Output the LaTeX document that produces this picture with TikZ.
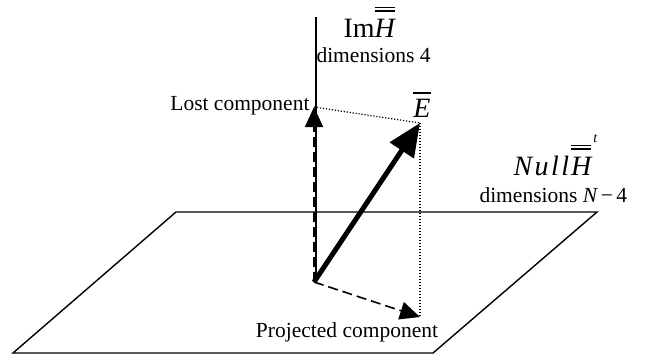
\documentclass[tikz,border=0pt]{standalone}
\usepackage{fontspec}
\setmainfont{Liberation Serif}
\usetikzlibrary{arrows.meta,positioning,calc}
\tikzset{every picture/.style={line width=1pt}}
\newcommand{\dblbar}[1]{\vbox{\hrule height 1.2pt\kern2.6pt\hrule height 1.2pt\kern7pt\hbox{\itshape #1}}}
\newcommand{\onebar}[1]{\vbox{\hrule height 1.3pt\kern5pt\hbox{\itshape #1}}}

\begin{document}
\begin{tikzpicture}[x=1pt,y=-1pt,font=\fontsize{21.5}{24}\selectfont,
    comp/.style={line width=1.6pt,dash pattern=on 10pt off 5pt,-{Triangle[length=20pt,width=18pt]}},
    guide/.style={line width=1.2pt,dash pattern=on 1.2pt off 1.8pt},
    big/.style={font=\fontsize{28}{30}\selectfont}]
    \useasboundingbox (0,0) rectangle (658,362);

    % 绘制零空间平面
    \draw[line width=1.4pt] (13,353) -- (433,353) -- (597,212) -- (176,212) -- cycle;

    % 坐标
    \coordinate (o) at (314,282);
    \coordinate (top) at (316,17);
    \coordinate (foot) at (316,281);
    \coordinate (lost) at (314,107);
    \coordinate (tip) at (420,123);
    \coordinate (proj) at (420,317);

    % 绘制像空间轴
    \draw[line width=1.3pt] (top) -- (foot);

    % 绘制投影虚线
    \draw[guide] (lost) -- (tip);
    \draw[guide] (tip) -- (proj);

    % 绘制分量
    \draw[comp] (o) -- (lost);
    \draw[comp] (o) -- (proj);

    % 绘制向量 E
    \draw[line width=5pt,-{Triangle[length=33pt,width=28pt]}] (o) -- (tip);

    % 标注
    \node[big,anchor=base west,inner sep=0pt] (imh) at (343,37) {Im\dblbar{H}};
    \node[anchor=base west,inner sep=0pt] (dimim) at (316,62) {dimensions 4};
    \node[anchor=base east,inner sep=0pt] (lostlbl) at (310,110) {Lost component};
    \node[big,anchor=base,inner sep=0pt] (elbl) at (422,117) {\onebar{E}};
    \node[big,anchor=base west,inner sep=0pt] (nullh) at (513,175)
        {{\itshape N\kern2.5pt u\kern2.5pt l\kern2.5pt l}\kern2pt\dblbar{H}\kern2pt\raisebox{33pt}{\fontsize{14}{14}\selectfont\itshape t}};
    \node[anchor=base west,inner sep=0pt] (dimnull) at (479,202)
        {dimensions {\itshape N}\,\char"2212\,4};
    \node[anchor=base,inner sep=0pt] (projlbl) at (347,337) {Projected component};
\end{tikzpicture}
\end{document}
